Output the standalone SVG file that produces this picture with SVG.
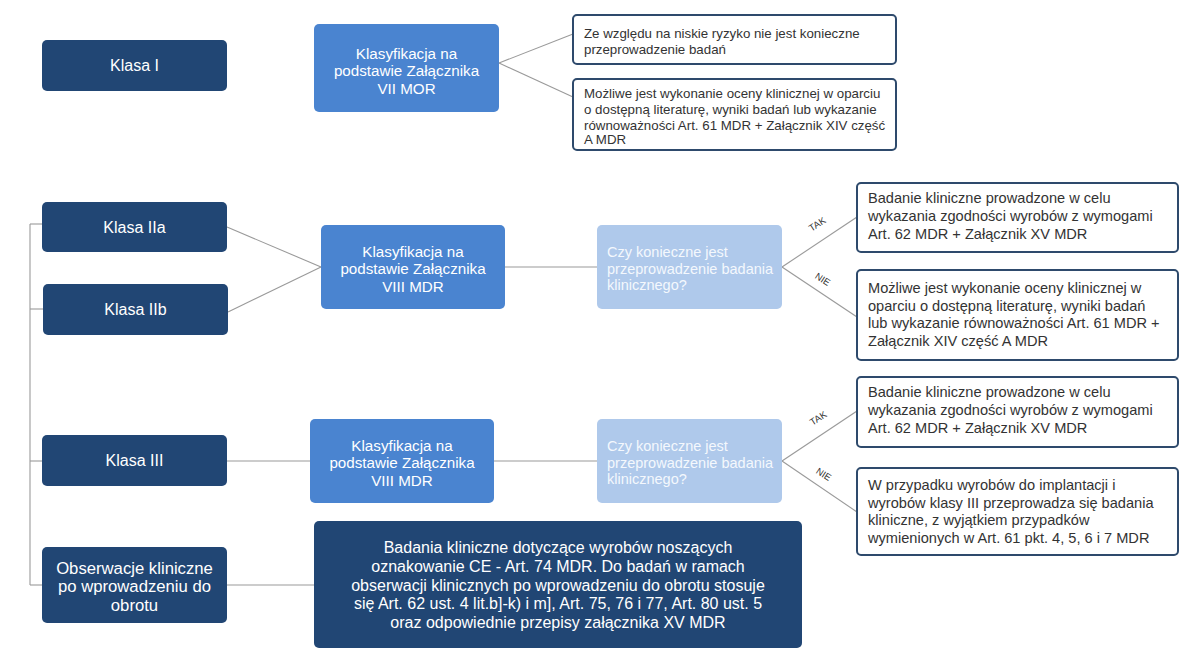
<svg xmlns="http://www.w3.org/2000/svg" width="1180" height="664" viewBox="0 0 1180 664">
<style>
.dark{fill:#214674}
.mid{fill:#4A84D0}
.light{fill:#AFC9EB}
.out{fill:#ffffff;stroke:#2E4A6C;stroke-width:2}
text{font-family:"Liberation Sans",Arial,sans-serif}
.w{fill:#ffffff}
.c{text-anchor:middle}
.t16{font-size:16px}
.t165{font-size:16.7px}
.t15{font-size:15.2px}
.t14{font-size:14.6px}
.t13{font-size:13.3px}
.g{fill:#333333}
.q{fill:#F4F8FD;font-size:14.5px}
.lab{font-size:9.5px;fill:#333333;text-anchor:middle}
.conn line{stroke:#9A9A9A;stroke-width:1.1}
</style>
<rect width="1180" height="664" fill="#ffffff"/>
<g class="conn" id="connectors">
<line x1="30" y1="224" x2="30" y2="585"/>
<line x1="30" y1="224" x2="42" y2="224"/>
<line x1="30" y1="309" x2="43" y2="309"/>
<line x1="30" y1="461" x2="42" y2="461"/>
<line x1="30" y1="585" x2="42" y2="585"/>
<line x1="499" y1="63" x2="573" y2="34"/>
<line x1="499" y1="63" x2="573" y2="97"/>
<line x1="227" y1="227" x2="321" y2="267"/>
<line x1="228" y1="312" x2="321" y2="267"/>
<line x1="505" y1="267" x2="597" y2="267"/>
<line x1="782" y1="267" x2="857" y2="217"/>
<line x1="782" y1="267" x2="857" y2="317"/>
<line x1="227" y1="461" x2="310" y2="461"/>
<line x1="494" y1="461" x2="597" y2="461"/>
<line x1="782" y1="461" x2="857" y2="411"/>
<line x1="782" y1="461" x2="857" y2="512"/>
<line x1="227" y1="585" x2="314" y2="585"/>
</g>
<g id="labels">
<text class="lab" transform="translate(819,227) rotate(-33)">TAK</text>
<text class="lab" transform="translate(821,282) rotate(33)">NIE</text>
<text class="lab" transform="translate(820,421) rotate(-33)">TAK</text>
<text class="lab" transform="translate(822,477) rotate(33)">NIE</text>
</g>
<g id="klasa1"><rect class="dark" x="42" y="40" width="185" height="51" rx="5"/><text class="w c t16" x="134.5" y="71">Klasa I</text></g>
<g id="klas7"><rect class="mid" x="314" y="24" width="185" height="88" rx="5"/>
<text class="w c t15"><tspan x="406.5" y="58.5">Klasyfikacja na</tspan><tspan x="406.5" y="76">podstawie Załącznika</tspan><tspan x="406.5" y="93.5">VII MOR</tspan></text></g>
<g id="r1"><rect class="out" x="573" y="15" width="323" height="49" rx="4"/>
<text class="g t13"><tspan x="584" y="38">Ze względu na niskie ryzyko nie jest konieczne</tspan><tspan x="584" y="54">przeprowadzenie badań</tspan></text></g>
<g id="r2"><rect class="out" x="573" y="79" width="323" height="71" rx="4"/>
<text class="g t13"><tspan x="584" y="98">Możliwe jest wykonanie oceny klinicznej w oparciu</tspan><tspan x="584" y="114">o dostępną literaturę, wyniki badań lub wykazanie</tspan><tspan x="584" y="129.5">równoważności Art. 61 MDR + Załącznik XIV część</tspan><tspan x="584" y="144">A MDR</tspan></text></g>
<g id="klasa2a"><rect class="dark" x="42" y="202" width="185" height="50" rx="5"/><text class="w c t16" x="134.5" y="232.5">Klasa IIa</text></g>
<g id="klasa2b"><rect class="dark" x="43" y="284" width="185" height="51" rx="5"/><text class="w c t16" x="135.5" y="315">Klasa IIb</text></g>
<g id="klas8a"><rect class="mid" x="321" y="225" width="184" height="84" rx="5"/>
<text class="w c t15"><tspan x="413" y="256.5">Klasyfikacja na</tspan><tspan x="413" y="274">podstawie Załącznika</tspan><tspan x="413" y="291.5">VIII MDR</tspan></text></g>
<g id="q1"><rect class="light" x="597" y="225" width="185" height="84" rx="5"/>
<text class="q"><tspan x="607" y="257">Czy konieczne jest</tspan><tspan x="607" y="273.5">przeprowadzenie badania</tspan><tspan x="607" y="290">klinicznego?</tspan></text></g>
<g id="r3"><rect class="out" x="857" y="183" width="321" height="69" rx="4"/>
<text class="g t14"><tspan x="868" y="203">Badanie kliniczne prowadzone w celu</tspan><tspan x="868" y="221">wykazania zgodności wyrobów z wymogami</tspan><tspan x="868" y="238.5">Art. 62 MDR + Załącznik XV MDR</tspan></text></g>
<g id="r4"><rect class="out" x="857" y="270" width="321" height="90" rx="4"/>
<text class="g t14"><tspan x="868" y="293">Możliwe jest wykonanie oceny klinicznej w</tspan><tspan x="868" y="311">oparciu o dostępną literaturę, wyniki badań</tspan><tspan x="868" y="328">lub wykazanie równoważności Art. 61 MDR +</tspan><tspan x="868" y="346">Załącznik XIV część A MDR</tspan></text></g>
<g id="klasa3"><rect class="dark" x="42" y="435" width="185" height="51" rx="5"/><text class="w c t16" x="134.5" y="466">Klasa III</text></g>
<g id="klas8b"><rect class="mid" x="310" y="419" width="184" height="84" rx="5"/>
<text class="w c t15"><tspan x="402" y="450.5">Klasyfikacja na</tspan><tspan x="402" y="468">podstawie Załącznika</tspan><tspan x="402" y="485.5">VIII MDR</tspan></text></g>
<g id="q2"><rect class="light" x="597" y="419" width="185" height="84" rx="5"/>
<text class="q"><tspan x="607" y="451">Czy konieczne jest</tspan><tspan x="607" y="467.5">przeprowadzenie badania</tspan><tspan x="607" y="484">klinicznego?</tspan></text></g>
<g id="r5"><rect class="out" x="857" y="377" width="321" height="70" rx="4"/>
<text class="g t14"><tspan x="868" y="397">Badanie kliniczne prowadzone w celu</tspan><tspan x="868" y="415">wykazania zgodności wyrobów z wymogami</tspan><tspan x="868" y="432.5">Art. 62 MDR + Załącznik XV MDR</tspan></text></g>
<g id="r6"><rect class="out" x="857" y="468" width="321" height="87" rx="4"/>
<text class="g t14"><tspan x="868" y="490">W przypadku wyrobów do implantacji i</tspan><tspan x="868" y="508">wyrobów klasy III przeprowadza się badania</tspan><tspan x="868" y="525">kliniczne, z wyjątkiem przypadków</tspan><tspan x="868" y="543">wymienionych w Art. 61 pkt. 4, 5, 6 i 7 MDR</tspan></text></g>
<g id="obs"><rect class="dark" x="42" y="547" width="185" height="76" rx="5"/>
<text class="w c t165"><tspan x="134.5" y="573.5">Obserwacje kliniczne</tspan><tspan x="134.5" y="592">po wprowadzeniu do</tspan><tspan x="134.5" y="610.5">obrotu</tspan></text></g>
<g id="big"><rect class="dark" x="314" y="521" width="488" height="127" rx="5"/>
<text class="w c t16"><tspan x="558" y="552.5">Badania kliniczne dotyczące wyrobów noszących</tspan><tspan x="558" y="572">oznakowanie CE - Art. 74 MDR. Do badań w ramach</tspan><tspan x="558" y="590.5">obserwacji klinicznych po wprowadzeniu do obrotu stosuje</tspan><tspan x="558" y="609">się Art. 62 ust. 4 lit.b]-k) i m], Art. 75, 76 i 77, Art. 80 ust. 5</tspan><tspan x="558" y="627.5">oraz odpowiednie przepisy załącznika XV MDR</tspan></text></g>
</svg>
